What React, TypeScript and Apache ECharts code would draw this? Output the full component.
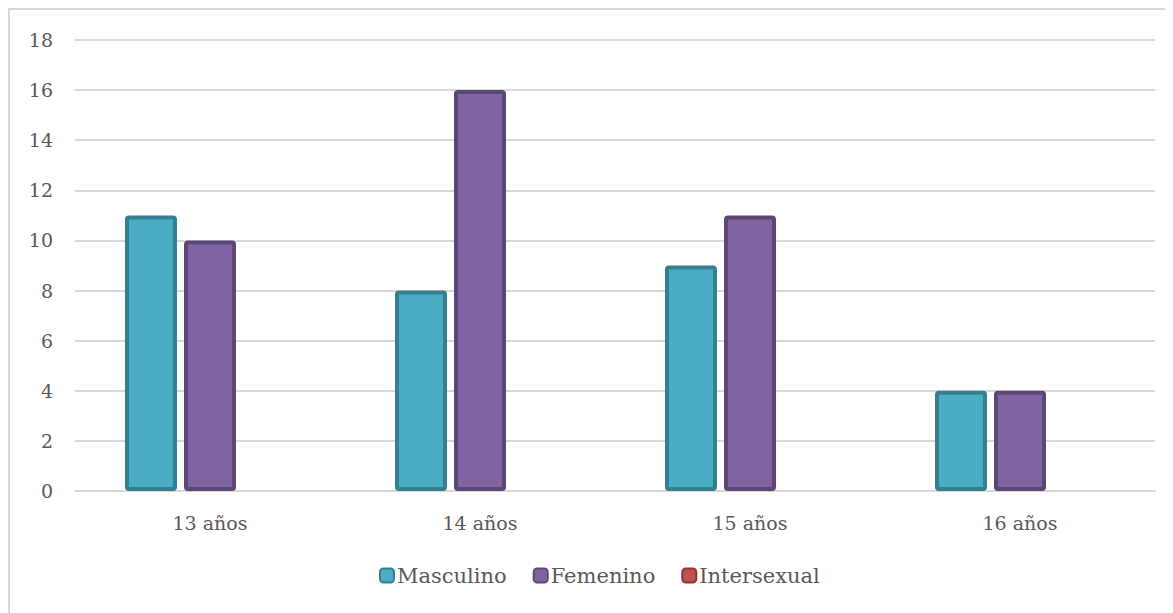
import React, { useEffect, useRef } from "react";
import * as echarts from "echarts";

const categories = ["13 años", "14 años", "15 años", "16 años"];
const masculino = [11, 8, 9, 4];
const femenino = [10, 16, 11, 4];
const intersexual = [0, 0, 0, 0];
const seriesNames = ["Masculino", "Femenino", "Intersexual"];
const fills = ["#4bacc6", "#8064a2", "#c0504d"];
const borders = ["#357f91", "#5c4777", "#8c3836"];

const FONT = "'DejaVu Serif', 'Liberation Serif', serif";

export default function App() {
  const ref = useRef<HTMLDivElement>(null);
  useEffect(() => {
    const chart = echarts.init(ref.current!, null, { renderer: "svg" });
    const mk = (i: number, data: number[]) => ({
      name: seriesNames[i],
      type: "bar",
      data,
      barWidth: 52,
      barGap: "13.5%",
      itemStyle: {
        color: fills[i],
        borderColor: borders[i],
        borderWidth: i === 2 ? 0 : 4,
        borderRadius: 2,
      },
    });
    chart.setOption({
      animation: false,
      grid: { left: 65, top: 30, right: 18, bottom: 122 },
      legend: {
        bottom: 22,
        left: 364,
        itemWidth: 14,
        itemHeight: 14,
        itemGap: 26,
        textStyle: { color: "#595959", fontSize: 21, fontFamily: FONT, padding: [0, 0, 0, -2] },
        data: seriesNames.map((n, i) => ({
          name: n,
          itemStyle: { color: fills[i], borderColor: borders[i], borderWidth: 2 },
        })),
      },
      xAxis: {
        type: "category",
        data: categories,
        axisLine: { lineStyle: { color: "#d9d9d9", width: 2 } },
        axisTick: { show: false },
        axisLabel: { color: "#595959", fontSize: 19, fontFamily: FONT, margin: 22 },
      },
      yAxis: {
        type: "value",
        min: 0,
        max: 18,
        interval: 2,
        axisLine: { show: false },
        axisTick: { show: false },
        splitLine: { lineStyle: { color: "#d9d9d9", width: 2 } },
        axisLabel: { color: "#595959", fontSize: 19, fontFamily: FONT, margin: 22 },
      },
      series: [mk(0, masculino), mk(1, femenino), mk(2, intersexual)],
    });
    return () => chart.dispose();
  }, []);
  return (
    <div
      ref={ref}
      style={{
        width: 1165,
        height: 605,
        boxSizing: "border-box",
        borderTop: "2px solid #d9d9d9",
        borderLeft: "2px solid #d9d9d9",
        background: "#fff",
      }}
    />
  );
}
